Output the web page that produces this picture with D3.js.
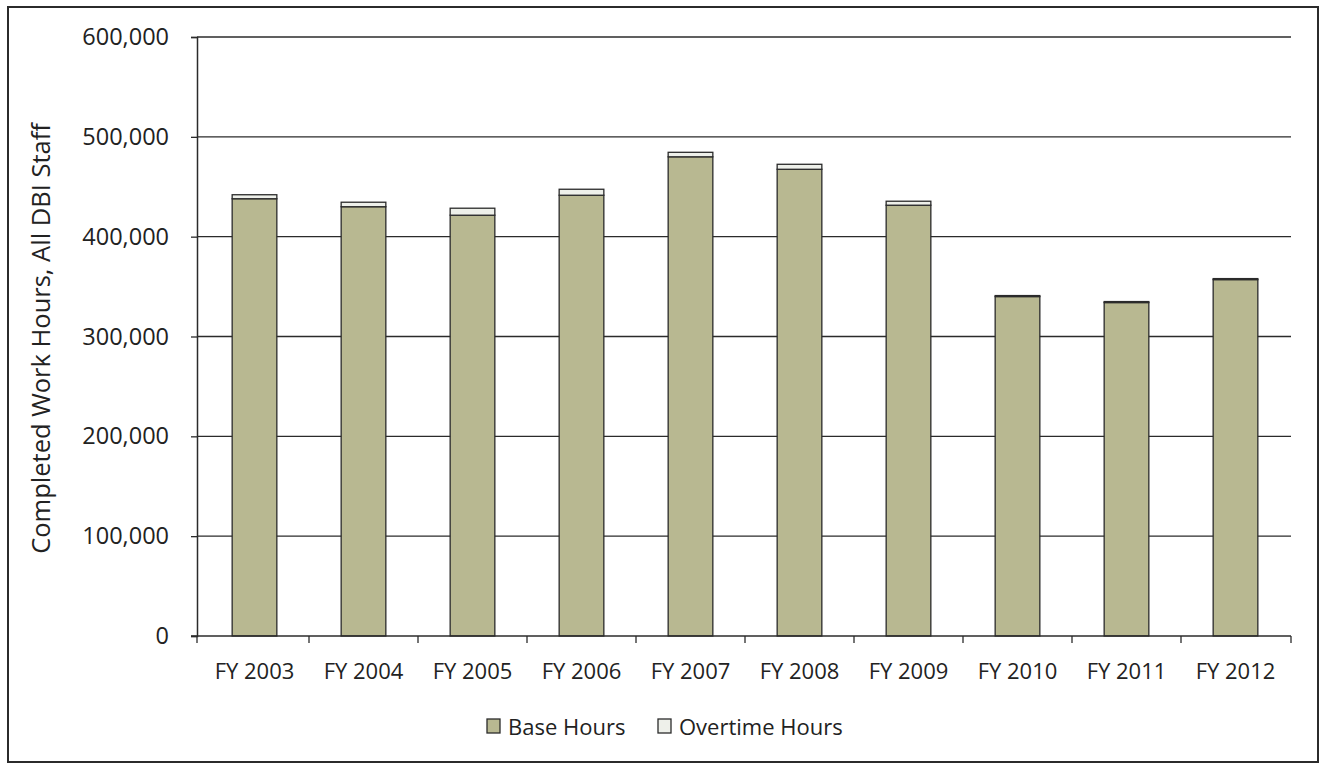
<!DOCTYPE html>
<html>
<head>
<meta charset="utf-8">
<script src="https://cdn.jsdelivr.net/npm/d3@7"></script>
<style>
  html, body { margin: 0; padding: 0; background: #fff; }
  svg { display: block; font-family: "Open Sans", "Noto Sans", sans-serif; }
</style>
</head>
<body>
<svg id="chart" width="1322" height="764"></svg>
<script>
// Fiscal years shown along the bottom axis
const years = ["FY 2003", "FY 2004", "FY 2005", "FY 2006", "FY 2007",
               "FY 2008", "FY 2009", "FY 2010", "FY 2011", "FY 2012"];
// Completed base hours per year
const baseHours = [438000, 430000, 421500, 441500, 480000,
                   467500, 431500, 340000, 334000, 357000];
// Completed overtime hours per year (stacked on top of base)
const overtimeHours = [4000, 4500, 7000, 6000, 4500,
                       5000, 4000, 1000, 1000, 1000];
// Value axis ticks
const yTicks = [0, 100000, 200000, 300000, 400000, 500000, 600000];
const seriesNames = ["Base Hours", "Overtime Hours"];
const seriesColors = ["#b8b891", "#eef0ea"];

const svg = d3.select("#chart");
const plot = { left: 197, right: 1291, top: 37, bottom: 636 };
const ink = "#2b2b2b";

// Outer frame
svg.append("rect")
  .attr("x", 8).attr("y", 7).attr("width", 1310).attr("height", 755)
  .attr("fill", "#fff").attr("stroke", ink).attr("stroke-width", 2);

const x = d3.scaleBand().domain(years)
  .range([200, 1290]).paddingInner(0.59).paddingOuter(0.295);
const y = d3.scaleLinear().domain([0, 600000]).range([plot.bottom, plot.top]);

// Horizontal gridlines
svg.append("g").selectAll("line").data(yTicks.filter(d => d > 0)).join("line")
  .attr("x1", plot.left).attr("x2", plot.right)
  .attr("y1", d => y(d)).attr("y2", d => y(d))
  .attr("stroke", ink).attr("stroke-width", 1.3);

// Value axis
const yAxis = svg.append("g")
  .attr("transform", `translate(${plot.left},0)`)
  .call(d3.axisLeft(y).tickValues(yTicks).tickSize(6).tickPadding(22)
    .tickFormat(d3.format(",")));
yAxis.select(".domain").attr("stroke", ink).attr("stroke-width", 1.5);
yAxis.selectAll(".tick line").attr("stroke", ink).attr("stroke-width", 1.3);
yAxis.selectAll("text").attr("font-size", 23.5).attr("fill", "#222")
  .attr("font-family", "'Open Sans', sans-serif");

// Stacked data
const stackData = years.map((yr, i) => ({ year: yr, base: baseHours[i], overtime: overtimeHours[i] }));
const stacked = d3.stack().keys(["base", "overtime"])(stackData);

svg.append("g").selectAll("g").data(stacked).join("g")
  .attr("fill", (d, i) => seriesColors[i])
  .selectAll("rect").data(d => d).join("rect")
  .attr("x", d => x(d.data.year))
  .attr("width", x.bandwidth())
  .attr("y", d => y(d[1]))
  .attr("height", d => y(d[0]) - y(d[1]))
  .attr("stroke", ink).attr("stroke-width", 1.3);

// Category axis with ticks between categories
const xAxisG = svg.append("g");
xAxisG.append("line")
  .attr("x1", plot.left - 6).attr("x2", plot.right)
  .attr("y1", plot.bottom).attr("y2", plot.bottom)
  .attr("stroke", ink).attr("stroke-width", 1.5);
const step = x.step();
const boundaries = years.map(d => x(d) - step * x.paddingInner() / 2);
boundaries.push(plot.right);
boundaries[0] = plot.left;
xAxisG.selectAll("line.tk").data(boundaries).join("line")
  .attr("class", "tk")
  .attr("x1", d => d).attr("x2", d => d)
  .attr("y1", plot.bottom).attr("y2", plot.bottom + 7)
  .attr("stroke", ink).attr("stroke-width", 1.3);
xAxisG.selectAll("text").data(years).join("text")
  .attr("x", d => x(d) + x.bandwidth() / 2)
  .attr("y", 679)
  .attr("text-anchor", "middle")
  .attr("font-size", 22).attr("fill", "#222")
  .text(d => d);

// Value axis title
svg.append("text")
  .attr("transform", `translate(50,${(plot.top + plot.bottom) / 2 + 2}) rotate(-90)`)
  .attr("text-anchor", "middle")
  .attr("font-size", 25.5).attr("fill", "#222")
  .text("Completed Work Hours, All DBI Staff");

// Legend
const legendX = [487, 658];
const legend = svg.append("g").selectAll("g").data(seriesNames).join("g")
  .attr("transform", (d, i) => `translate(${legendX[i]},719)`);
legend.append("rect")
  .attr("width", 13).attr("height", 14)
  .attr("fill", (d, i) => seriesColors[i])
  .attr("stroke", ink).attr("stroke-width", 1.3);
legend.append("text")
  .attr("x", 21).attr("y", 15.5)
  .attr("font-size", 22).attr("fill", "#222")
  .text(d => d);
</script>
</body>
</html>
